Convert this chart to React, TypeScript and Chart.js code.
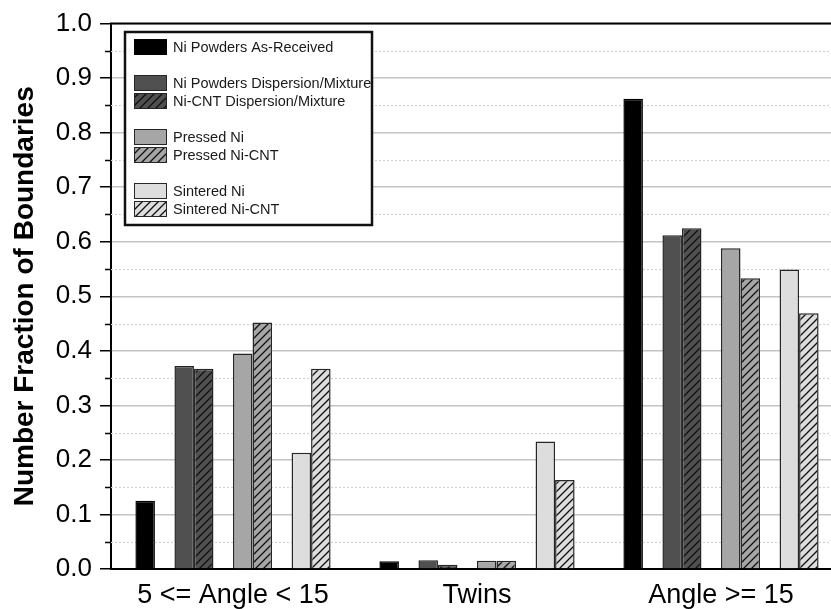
import React, { useEffect, useRef } from 'react';
import { Chart, registerables } from 'chart.js';

Chart.register(...registerables);

const FONT = "'Liberation Sans', Arial, Helvetica, sans-serif";

const categories = ['5 <= Angle < 15', 'Twins', 'Angle >= 15'];

const asReceived = [0.125, 0.014, 0.862];
const powderNi = [0.372, 0.016, 0.612];
const powderNiCnt = [0.367, 0.008, 0.625];
const pressedNi = [0.395, 0.015, 0.588];
const pressedNiCnt = [0.452, 0.015, 0.533];
const sinteredNi = [0.213, 0.234, 0.549];
const sinteredNiCnt = [0.367, 0.163, 0.469];
const spacer = [null, null, null];

const yTickLabels = ['0.0', '0.1', '0.2', '0.3', '0.4', '0.5', '0.6', '0.7', '0.8', '0.9', '1.0'];
const yMinorTicks = [0.05, 0.15, 0.25, 0.35, 0.45, 0.55, 0.65, 0.75, 0.85, 0.95];

function hatch(base: string): CanvasPattern {
  const c = document.createElement('canvas');
  c.width = 8;
  c.height = 8;
  const g = c.getContext('2d')!;
  g.fillStyle = base;
  g.fillRect(0, 0, 8, 8);
  g.strokeStyle = '#111';
  g.lineWidth = 1.3;
  g.beginPath();
  g.moveTo(-1, 9);
  g.lineTo(9, -1);
  g.moveTo(-1, 1);
  g.lineTo(1, -1);
  g.moveTo(7, 9);
  g.lineTo(9, 7);
  g.stroke();
  return g.createPattern(c, 'repeat')!;
}

const frameAndMinor = {
  id: 'frameAndMinor',
  beforeDatasetsDraw(chart: any) {
    const { ctx, chartArea } = chart;
    const y = chart.scales.y;
    ctx.save();
    ctx.strokeStyle = '#d2d2d2';
    ctx.lineWidth = 1.2;
    ctx.setLineDash([2, 2]);
    for (const v of yMinorTicks) {
      const py = Math.round(y.getPixelForValue(v)) + 0.5;
      ctx.beginPath();
      ctx.moveTo(chartArea.left, py);
      ctx.lineTo(chartArea.right, py);
      ctx.stroke();
    }
    ctx.restore();
  },
  afterDraw(chart: any) {
    const { ctx, chartArea } = chart;
    const y = chart.scales.y;
    ctx.save();
    ctx.strokeStyle = '#000';
    ctx.lineWidth = 1.5;
    for (const v of yMinorTicks) {
      const py = Math.round(y.getPixelForValue(v)) + 0.5;
      ctx.beginPath();
      ctx.moveTo(chartArea.left - 6, py);
      ctx.lineTo(chartArea.left, py);
      ctx.stroke();
    }
    ctx.lineWidth = 2;
    ctx.beginPath();
    ctx.moveTo(chartArea.left - 1, chartArea.top);
    ctx.lineTo(chartArea.right, chartArea.top);
    ctx.stroke();

    // boxed legend
    const x0 = 125, y0 = 32, x1 = 372, y1 = 225;
    ctx.fillStyle = '#fff';
    ctx.fillRect(x0, y0, x1 - x0, y1 - y0);
    ctx.font = `14.5px ${FONT}`;
    ctx.textBaseline = 'middle';
    ctx.textAlign = 'left';
    chart.data.datasets.forEach((ds: any, i: number) => {
      if (!ds.label) return;
      const cy = 47 + 18 * i;
      ctx.fillStyle = ds.backgroundColor;
      ctx.fillRect(134, cy - 8, 33, 16);
      ctx.strokeStyle = ds.borderColor;
      ctx.lineWidth = 1;
      ctx.strokeRect(134.5, cy - 7.5, 32, 15);
      ctx.fillStyle = '#1a1a1a';
      ctx.fillText(ds.label, 173, cy + 1);
    });
    ctx.strokeStyle = '#111';
    ctx.lineWidth = 2.5;
    ctx.strokeRect(x0, y0, x1 - x0, y1 - y0);
    ctx.restore();
  },
};

export default function App() {
  const ref = useRef<HTMLCanvasElement>(null);

  useEffect(() => {
    const canvas = ref.current;
    if (!canvas) return;
    const dark = '#505050';
    const mid = '#a6a6a6';
    const light = '#dddddd';
    const edge = '#262626';
    const mk = (label: string, data: any[], bg: any, border = edge) => ({
      label,
      data,
      backgroundColor: bg,
      borderColor: border,
      borderWidth: 1.5,
    });
    const chart = new Chart(canvas, {
      type: 'bar',
      data: {
        labels: categories,
        datasets: [
          mk('Ni Powders As-Received', asReceived, '#000000', '#000000'),
          mk('', spacer, 'rgba(0,0,0,0)'),
          mk('Ni Powders Dispersion/Mixture', powderNi, dark),
          mk('Ni-CNT Dispersion/Mixture', powderNiCnt, hatch(dark)),
          mk('', spacer, 'rgba(0,0,0,0)'),
          mk('Pressed Ni', pressedNi, mid),
          mk('Pressed Ni-CNT', pressedNiCnt, hatch(mid)),
          mk('', spacer, 'rgba(0,0,0,0)'),
          mk('Sintered Ni', sinteredNi, light),
          mk('Sintered Ni-CNT', sinteredNiCnt, hatch(light)),
        ] as any,
      },
      options: {
        animation: false,
        responsive: false,
        devicePixelRatio: 1,
        layout: { padding: { top: 20, right: 3, left: 0, bottom: 0 } },
        datasets: { bar: { categoryPercentage: 0.8, barPercentage: 1.0 } },
        plugins: { legend: { display: false }, tooltip: { enabled: false } },
        scales: {
          x: {
            type: 'category',
            offset: true,
            grid: { display: false, drawTicks: false },
            border: { display: true, color: '#000', width: 2 },
            ticks: {
              color: '#000',
              font: { family: FONT, size: 27 },
              padding: 10,
              maxRotation: 0,
              autoSkip: false,
            },
            afterFit: (s: any) => {
              s.height = 40;
            },
          },
          y: {
            min: 0,
            max: 1,
            ticks: {
              stepSize: 0.1,
              color: '#000',
              font: { family: FONT, size: 26 },
              padding: 8,
              callback: (_v: any, i: number) => yTickLabels[i],
            },
            grid: {
              color: '#c4c4c4',
              lineWidth: 1.5,
              tickColor: '#000',
              tickLength: 11,
              tickWidth: 1.5,
            },
            border: { color: '#000', width: 2 },
            title: {
              display: true,
              text: 'Number Fraction of Boundaries',
              color: '#000',
              font: { family: FONT, size: 28, weight: 'bold' },
              padding: { top: 8, bottom: 0 },
            },
            afterFit: (s: any) => {
              s.width = 111;
            },
          },
        } as any,
      },
      plugins: [frameAndMinor],
    });
    return () => chart.destroy();
  }, []);

  return (
    <div
      style={{
        position: 'fixed',
        left: 0,
        top: 0,
        width: 831,
        height: 609,
        overflow: 'hidden',
        background: '#fff',
      }}
    >
      <canvas ref={ref} width={846} height={609} style={{ display: 'block' }} />
    </div>
  );
}
